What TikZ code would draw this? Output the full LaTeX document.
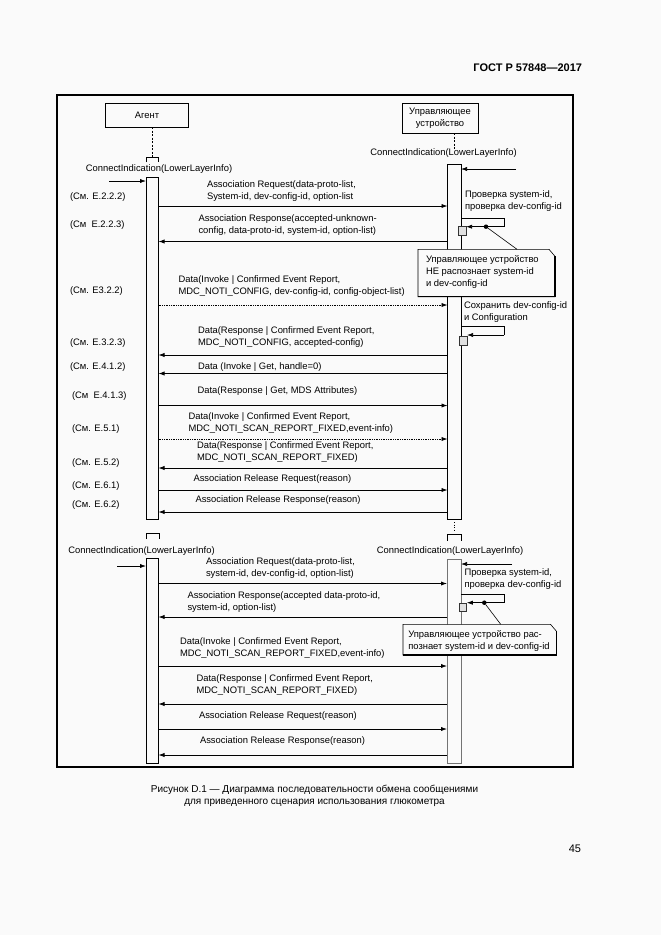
\documentclass[tikz,border=0pt]{standalone}
\usepackage{fontspec}
\setmainfont{Liberation Sans}
\usetikzlibrary{arrows.meta,calc}
\definecolor{bg}{gray}{0.98}
\begin{document}
\begin{tikzpicture}[x=1pt,y=-1pt,
  every node/.style={font=\fontsize{9.4}{12}\selectfont, inner sep=0pt, outer sep=0pt},
  msg/.style={-{Latex[length=6pt,width=4.2pt]}, line width=0.75pt},
  dmsg/.style={msg, densely dotted},
  actbar/.style={draw, line width=0.7pt, fill=bg, minimum width=12.5pt, anchor=north},
  actor/.style={draw, line width=0.6pt, align=center, fill=bg},
  lifeline/.style={dash pattern=on 2pt off 1.5pt, line width=0.5pt},
  lbl/.style={anchor=west, align=left},
  refl/.style={anchor=west},
  sqbox/.style={draw=black!80, fill=black!12, line width=0.6pt},
  blackdot/.style={circle, fill=black, minimum size=4.5pt},
  brk/.style={line width=0.6pt},
  selfline/.style={line width=0.7pt},
  noteframe/.style={line width=0.6pt, fill=bg},
  noteshadow/.style={line width=1.5pt}
]
\fill[bg] (0,0) rectangle (661,935);
\useasboundingbox (0,0) rectangle (661,935);

% header
\node[anchor=east, font=\fontsize{11}{13}\selectfont\bfseries] (hdr) at (582,68) {ГОСТ Р 57848—2017};

% frame
\draw[line width=1.8pt] (57,95) rectangle (573,767);

% actors
\node[actor, minimum width=83pt, minimum height=24pt] (agent) at (147,115) {Агент};
\node[actor, minimum width=76pt, minimum height=30pt] (mgr) at (440,118) {Управляющее\\устройство};

% ---------- section 1 ----------
\coordinate (abr1) at (152.25,157);
\coordinate (mlt) at (454.25,149);
\draw[lifeline] (agent.south -| abr1) -- (abr1);
\draw[lifeline] (mgr.south -| mlt) -- (mlt);
\draw[brk] ($(abr1)+(-6.25,5)$) -- ++(0,-5) -- ++(12.5,0) -- ++(0,5);

\node (ci1) at (159,169) {ConnectIndication(LowerLayerInfo)};
\node (ci2) at (443.5,153) {ConnectIndication(LowerLayerInfo)};

\node[actbar, minimum height=342pt] (ab1) at (152.25,177) {};
\node[actbar, minimum width=13.5pt, minimum height=355pt] (mb1) at (454.25,164) {};

\coordinate (in1) at (109,181);
\coordinate (in2) at (516,169);
\draw[msg] (in1) -- (in1 -| ab1.west);
\draw[msg] (in2) -- (in2 -| mb1.east);

% message levels
\coordinate (y1) at (0,206);
\coordinate (y2) at (0,241.5);
\coordinate (y3) at (0,305);
\coordinate (y4) at (0,355);
\coordinate (y5) at (0,373.5);
\coordinate (y6) at (0,405.5);
\coordinate (y7) at (0,439);
\coordinate (y8) at (0,468);
\coordinate (y9) at (0,490);
\coordinate (y10) at (0,512);

\draw[msg] (y1 -| ab1.east) -- (y1 -| mb1.west);
\draw[msg] (y2 -| mb1.west) -- (y2 -| ab1.east);
\draw[dmsg] (y3 -| ab1.east) -- (y3 -| mb1.west);
\draw[msg] (y4 -| mb1.west) -- (y4 -| ab1.east);
\draw[msg] (y5 -| mb1.west) -- (y5 -| ab1.east);
\draw[msg] (y6 -| ab1.east) -- (y6 -| mb1.west);
\draw[dmsg] (y7 -| ab1.east) -- (y7 -| mb1.west);
\draw[msg] (y8 -| mb1.west) -- (y8 -| ab1.east);
\draw[msg] (y9 -| ab1.east) -- (y9 -| mb1.west);
\draw[msg] (y10 -| mb1.west) -- (y10 -| ab1.east);

% labels
\node[lbl] (l1) at (207,191.5) {Association Request(data-proto-list,\\System-id, dev-config-id, option-list};
\node[lbl] (l2) at (198.5,225) {Association Response(accepted-unknown-\\config, data-proto-id, system-id, option-list)};
\node[lbl] (l3) at (178.5,286) {Data(Invoke | Confirmed Event Report,\\MDC\_NOTI\_CONFIG, dev-config-id, config-object-list)};
\node[lbl] (l4) at (198,336.7) {Data(Response | Confirmed Event Report,\\MDC\_NOTI\_CONFIG, accepted-config)};
\node[lbl] (l5) at (198,367) {Data (Invoke | Get, handle=0)};
\node[lbl] (l6) at (197.5,391.5) {Data(Response | Get, MDS Attributes)};
\node[lbl] (l7) at (188.5,423) {Data(Invoke | Confirmed Event Report,\\MDC\_NOTI\_SCAN\_REPORT\_FIXED,event-info)};
\node[lbl] (l8) at (197,452.5) {Data(Response | Confirmed Event Report,\\MDC\_NOTI\_SCAN\_REPORT\_FIXED)};
\node[lbl] (l9) at (193.5,479.3) {Association Release Request(reason)};
\node[lbl] (l10) at (195.5,500.5) {Association Release Response(reason)};

% references
\node[refl] (r1) at (70,197) {(См. E.2.2.2)};
\node[refl] (r2) at (70,225) {(См\ \ E.2.2.3)};
\node[refl] (r3) at (70,291) {(См. E3.2.2)};
\node[refl] (r4) at (70,342.7) {(См. E.3.2.3)};
\node[refl] (r5) at (70,367) {(См. E.4.1.2)};
\node[refl] (r6) at (72,396) {(См\ \ E.4.1.3)};
\node[refl] (r7) at (72,429) {(См. E.5.1)};
\node[refl] (r8) at (72,463) {(См. E.5.2)};
\node[refl] (r9) at (72,486.5) {(См. E.6.1)};
\node[refl] (r10) at (72,505) {(См. E.6.2)};

% manager side texts
\node[lbl] (p1) at (465,201) {Проверка system-id,\\проверка dev-config-id};
\node[lbl] (p2) at (464,311.7) {Сохранить dev-config-id\\и Configuration};

% self call 1
\coordinate (sc1t) at (0,218.3);
\coordinate (sc1r) at (504,226.7);
\node[sqbox, minimum width=7.7pt, minimum height=9pt] (sq1) at (462.2,230.5) {};
\draw[selfline] (sc1t -| mb1.east) -| (sc1r);
\draw[msg] (sc1r) -- (sc1r -| sq1.east);
\node[blackdot] (d1) at (486,226.7) {};

% self call 2
\coordinate (sc2t) at (0,326.7);
\coordinate (sc2r) at (504,335);
\node[sqbox, minimum width=8pt, minimum height=8.5pt] (sq2) at (463,341) {};
\draw[selfline] (sc2t -| mb1.east) -| (sc2r);
\draw[msg] (sc2r) -- (sc2r -| sq2.east);

% note 1
\node[minimum width=137pt, minimum height=47.4pt, anchor=north west] (nt1) at (418,249.3) {};
\draw[noteframe] (nt1.north west) -- ($(nt1.north east)+(-6,0)$) -- ($(nt1.north east)+(0,7)$) -- (nt1.south east) -- (nt1.south west) -- cycle;
\draw[noteshadow] ($(nt1.north east)+(0,7)$) -- (nt1.south east) -- (nt1.south west);
\node[lbl] (nt1t) at (426,272) {Управляющее устройство\\НЕ распознает system-id\\и dev-config-id};
\draw[line width=0.6pt] (d1) -- ($(nt1.north west)+(99,0)$);

% ---------- gap ----------
\coordinate (mgap) at (454.25,532);
\draw[lifeline, dash pattern=on 1pt off 1.5pt] ($(mb1.south)+(0,3)$) -- (mgap);

% ---------- section 2 ----------
\coordinate (abr2) at (152.6,533);
\coordinate (mbr2) at (454.3,534);
\draw[brk] ($(abr2)+(-6.6,6)$) -- ++(0,-6) -- ++(13.2,0) -- ++(0,6);
\draw[brk] ($(mbr2)+(-7,6.5)$) -- ++(0,-6.5) -- ++(14,0) -- ++(0,6.5);

\node (ci3) at (141.5,551) {ConnectIndication(LowerLayerInfo)};
\node (ci4) at (450,551.5) {ConnectIndication(LowerLayerInfo)};

\node[actbar, minimum height=205pt] (ab2) at (152.25,558) {};
\node[actbar, minimum width=14pt, minimum height=204pt, draw=black!55] (mb2) at (454,559) {};

\coordinate (in3) at (117,566);
\coordinate (in4) at (512,564);
\draw[msg] (in3) -- (in3 -| ab2.west);
\draw[msg] (in4) -- (in4 -| mb2.east);

\coordinate (z1) at (0,583.5);
\coordinate (z2) at (0,617);
\coordinate (z3) at (0,666);
\coordinate (z4) at (0,704);
\coordinate (z5) at (0,729);
\coordinate (z6) at (0,755);

\draw[msg] (z1 -| ab2.east) -- (z1 -| mb2.west);
\draw[msg] (z2 -| mb2.west) -- (z2 -| ab2.east);
\draw[msg] (z3 -| ab2.east) -- (z3 -| mb2.west);
\draw[msg] (z4 -| mb2.west) -- (z4 -| ab2.east);
\draw[msg] (z5 -| ab2.east) -- (z5 -| mb2.west);
\draw[msg] (z6 -| mb2.west) -- (z6 -| ab2.east);

\node[lbl] (s1) at (206,568.5) {Association Request(data-proto-list,\\system-id, dev-config-id, option-list)};
\node[lbl] (s2) at (187.5,602) {Association Response(accepted data-proto-id,\\system-id, option-list)};
\node[lbl] (s3) at (180,648.5) {Data(Invoke | Confirmed Event Report,\\MDC\_NOTI\_SCAN\_REPORT\_FIXED,event-info)};
\node[lbl] (s4) at (196.5,685.5) {Data(Response | Confirmed Event Report,\\MDC\_NOTI\_SCAN\_REPORT\_FIXED)};
\node[lbl] (s5) at (199,716) {Association Release Request(reason)};
\node[lbl] (s6) at (200,741) {Association Release Response(reason)};

\node[lbl] (p3) at (464.5,578.7) {Проверка system-id,\\проверка dev-config-id};

% self call 3
\coordinate (sc3t) at (0,594.3);
\coordinate (sc3r) at (504.3,602.7);
\node[sqbox, minimum width=7.5pt, minimum height=8.4pt] (sq3) at (463,607.5) {};
\draw[selfline] (sc3t -| mb2.east) -| (sc3r);
\draw[msg] (sc3r) -- (sc3r -| sq3.east);
\node[blackdot] (d2) at (484.3,602.7) {};

% note 2
\node[minimum width=153.5pt, minimum height=30.7pt, anchor=north west] (nt2) at (403,624.3) {};
\draw[noteframe] (nt2.north west) -- ($(nt2.north east)+(-6,0)$) -- ($(nt2.north east)+(0,7)$) -- (nt2.south east) -- (nt2.south west) -- cycle;
\draw[noteshadow] ($(nt2.north east)+(0,7)$) -- (nt2.south east) -- (nt2.south west);
\node[lbl] (nt2t) at (408.3,641) {Управляющее устройство рас-\\познает system-id и dev-config-id};
\draw[line width=0.6pt] (d2) -- ($(nt2.north west)+(97.7,0)$);

% caption
\node[font=\fontsize{10}{12}\selectfont, align=center] (cap) at (314.5,796) {Рисунок D.1 — Диаграмма последовательности обмена сообщениями\\для приведенного сценария использования глюкометра};
\node[anchor=east, font=\fontsize{11}{13}\selectfont] (pg) at (581,849) {45};
\end{tikzpicture}
\end{document}
